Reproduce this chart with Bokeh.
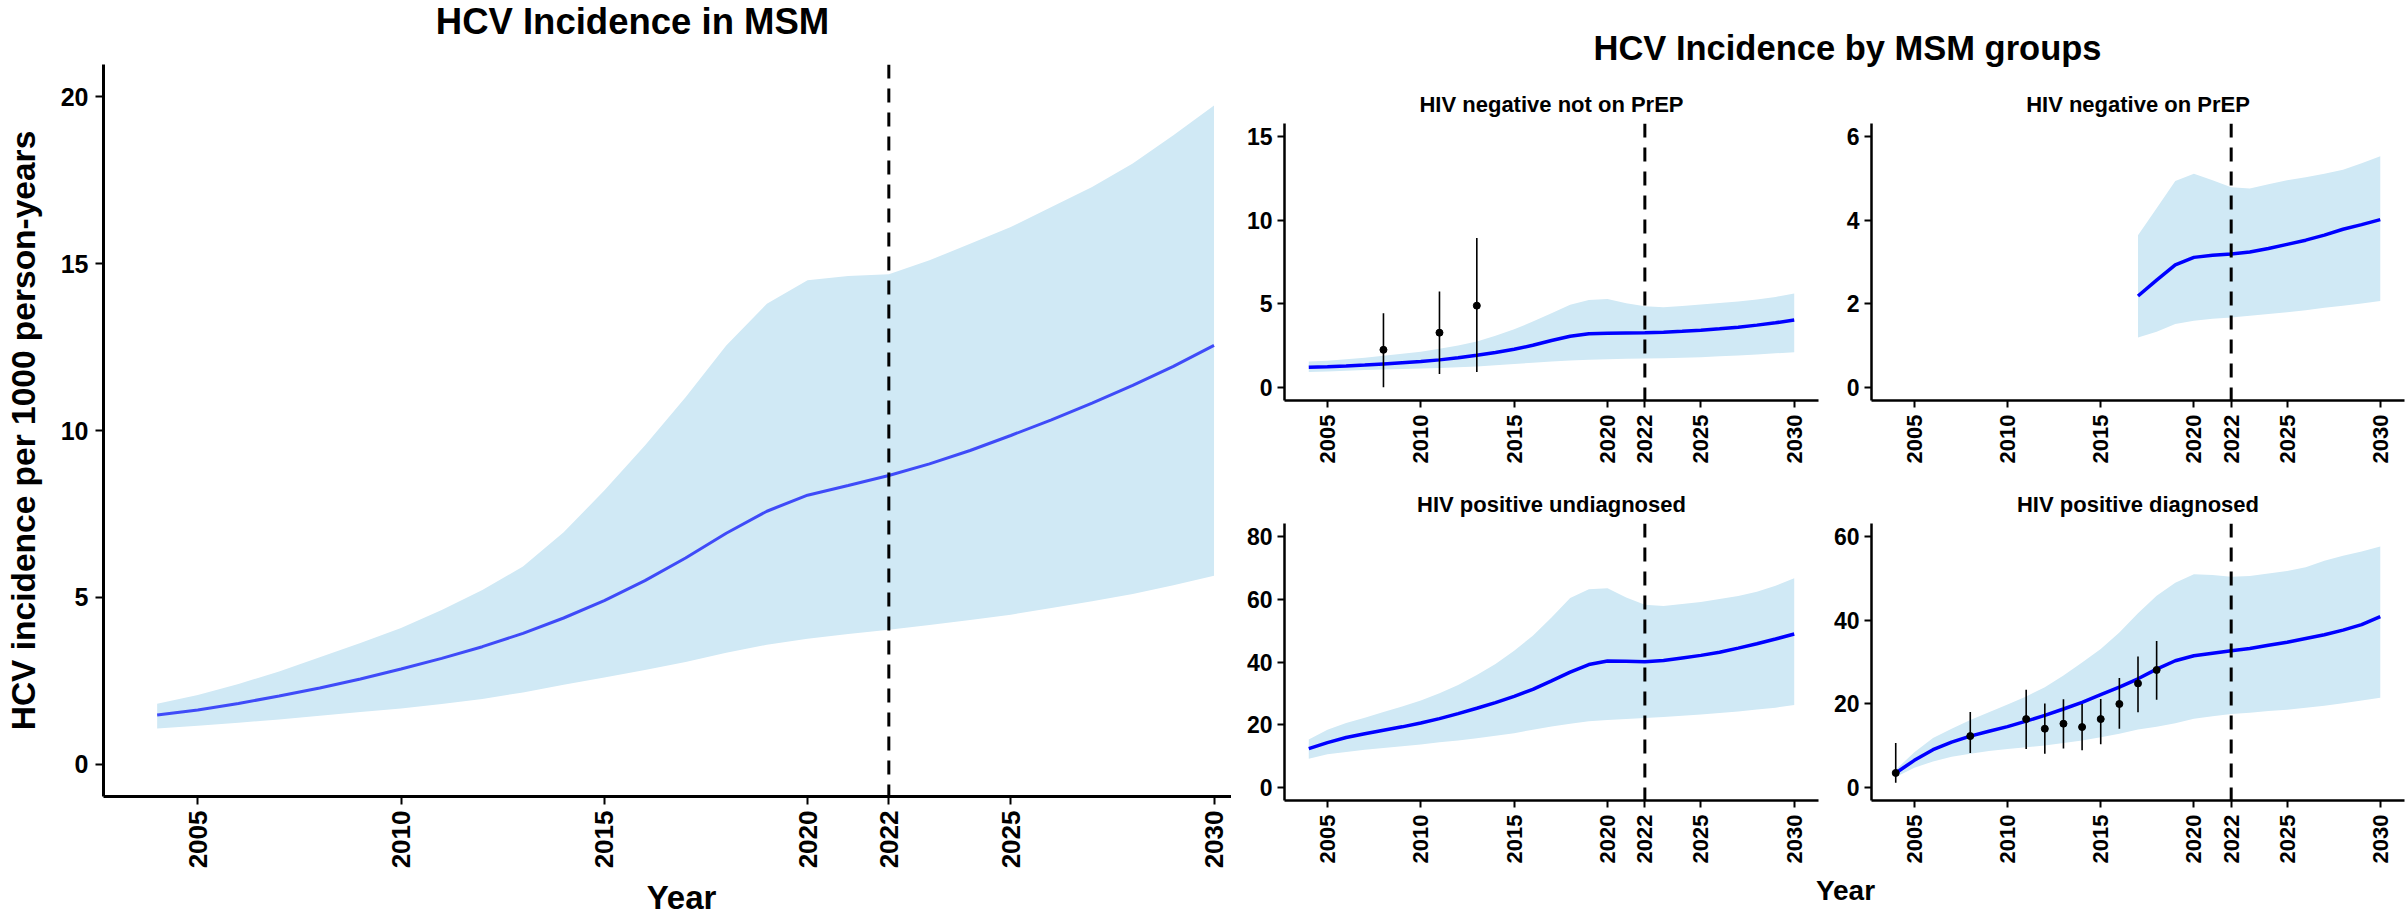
import math
from bokeh.plotting import figure
from bokeh.models import Range1d, FixedTicker, Span, Label
from bokeh.layouts import row, column
from bokeh.embed import file_html
from bokeh.resources import INLINE

FONT = "Liberation Sans"

# ---------------- data ----------------
years = list(range(2004, 2031))
x_ticks = [2005, 2010, 2015, 2020, 2022, 2025, 2030]
cutoff_year = 2022

# Overall MSM
msm_median = [1.47, 1.62, 1.82, 2.04, 2.28, 2.55, 2.85, 3.17, 3.52, 3.92, 4.38, 4.90, 5.50, 6.18,
              6.92, 7.58, 8.06, 8.35, 8.65, 9.00, 9.40, 9.85, 10.32, 10.82, 11.35, 11.92, 12.55]
msm_upper = [1.81, 2.07, 2.40, 2.78, 3.20, 3.63, 4.08, 4.62, 5.22, 5.92, 6.95, 8.20, 9.55, 11.0,
             12.55, 13.8, 14.5, 14.63, 14.68, 15.1, 15.6, 16.1, 16.7, 17.3, 18.0, 18.85, 19.74]
msm_lower = [1.07, 1.15, 1.24, 1.34, 1.45, 1.56, 1.67, 1.80, 1.95, 2.15, 2.38, 2.60, 2.82, 3.06,
             3.34, 3.58, 3.76, 3.90, 4.03, 4.17, 4.32, 4.48, 4.68, 4.88, 5.10, 5.36, 5.65]

# HIV negative not on PrEP
neg_median = [1.23, 1.26, 1.30, 1.36, 1.43, 1.50, 1.57, 1.67, 1.79, 1.94, 2.11, 2.30, 2.54, 2.82,
              3.08, 3.22, 3.26, 3.27, 3.28, 3.32, 3.37, 3.43, 3.52, 3.62, 3.74, 3.88, 4.04]
neg_upper = [1.57, 1.62, 1.70, 1.80, 1.91, 2.03, 2.16, 2.33, 2.53, 2.76, 3.10, 3.49, 3.95, 4.44,
             4.95, 5.24, 5.30, 5.05, 4.86, 4.80, 4.88, 4.97, 5.06, 5.15, 5.26, 5.42, 5.62]
neg_lower = [0.95, 0.98, 1.02, 1.06, 1.10, 1.13, 1.15, 1.19, 1.23, 1.27, 1.35, 1.43, 1.50, 1.57,
             1.63, 1.68, 1.71, 1.73, 1.75, 1.77, 1.80, 1.83, 1.88, 1.93, 1.99, 2.06, 2.13]
neg_obs_year = [2008, 2011, 2013]
neg_obs = [2.27, 3.29, 4.90]
neg_obs_lo = [0.04, 0.83, 0.95]
neg_obs_hi = [4.44, 5.75, 8.93]

# HIV negative on PrEP
prep_years = list(range(2017, 2031))
prep_median = [2.19, 2.57, 2.93, 3.11, 3.16, 3.19, 3.24, 3.32, 3.42, 3.52, 3.64, 3.78, 3.89, 4.01]
prep_upper = [3.64, 4.28, 4.93, 5.10, 4.95, 4.78, 4.75, 4.85, 4.95, 5.02, 5.10, 5.20, 5.35, 5.52]
prep_lower = [1.20, 1.34, 1.52, 1.60, 1.65, 1.68, 1.72, 1.76, 1.80, 1.85, 1.91, 1.96, 2.01, 2.07]

# HIV positive undiagnosed
und_median = [12.5, 14.4, 16.0, 17.2, 18.3, 19.4, 20.6, 22.0, 23.6, 25.3, 27.1, 29.1, 31.3, 34.0,
              36.8, 39.2, 40.3, 40.2, 40.1, 40.5, 41.3, 42.1, 43.1, 44.4, 45.8, 47.3, 48.9]
und_upper = [15.4, 18.5, 20.6, 22.3, 24.1, 25.9, 27.8, 30.1, 32.7, 35.9, 39.4, 43.6, 48.3, 54.1,
             60.3, 63.1, 63.4, 60.5, 58.2, 57.8, 58.4, 59.1, 60.0, 61.0, 62.3, 64.2, 66.6]
und_lower = [9.3, 10.7, 11.4, 12.1, 12.7, 13.2, 13.8, 14.5, 15.1, 15.8, 16.6, 17.4, 18.5, 19.5,
             20.4, 21.2, 21.6, 21.9, 22.2, 22.5, 22.9, 23.3, 23.8, 24.3, 24.9, 25.5, 26.3]

# HIV positive diagnosed
dia_median = [3.56, 6.57, 9.1, 10.9, 12.35, 13.5, 14.6, 15.9, 17.3, 18.8, 20.4, 22.2, 24.0, 26.0,
              28.3, 30.3, 31.5, 32.1, 32.7, 33.2, 34.0, 34.7, 35.6, 36.5, 37.6, 38.9, 40.8]
dia_upper = [4.35, 8.5, 11.9, 14.1, 16.2, 18.0, 19.9, 21.8, 24.0, 26.8, 29.9, 33.1, 37.0, 41.6,
             45.8, 48.9, 50.9, 50.7, 50.3, 50.5, 51.1, 51.7, 52.6, 54.1, 55.3, 56.3, 57.5]
dia_lower = [2.6, 4.8, 6.3, 7.4, 8.15, 8.8, 9.3, 9.7, 10.1, 10.7, 11.3, 12.1, 12.9, 13.9,
             14.6, 15.4, 16.5, 17.1, 17.6, 17.9, 18.3, 18.6, 19.1, 19.6, 20.2, 20.8, 21.5]
dia_obs_year = [2004, 2008, 2011, 2012, 2013, 2014, 2015, 2016, 2017, 2018]
dia_obs = [3.56, 12.35, 16.4, 14.1, 15.3, 14.5, 16.4, 20.0, 24.9, 28.1]
dia_obs_lo = [1.2, 8.3, 9.3, 8.15, 9.4, 9.0, 10.4, 14.1, 18.0, 21.0]
dia_obs_hi = [10.7, 18.1, 23.4, 20.1, 21.1, 20.0, 21.2, 26.2, 31.3, 35.0]

BAND = "#D0E9F5"

# left panel geometry (pixels)
L_W, L_BL = 1231, 103
L_XR = (2002.68, 2030.43)


def style(p, xsize, ysize, axis_w, tick_len):
    p.xgrid.visible = False
    p.ygrid.visible = False
    p.outline_line_color = None
    p.background_fill_color = "white"
    p.xaxis.ticker = FixedTicker(ticks=x_ticks)
    p.xaxis.major_label_orientation = math.pi / 2
    for ax in (p.xaxis, p.yaxis):
        ax.minor_tick_line_color = None
        ax.major_tick_in = 0
        ax.major_tick_out = tick_len
        ax.major_tick_line_width = 2
        ax.major_tick_line_color = "black"
        ax.axis_line_width = axis_w
        ax.axis_line_color = "black"
        ax.major_label_text_font = FONT
        ax.major_label_text_font_style = "bold"
        ax.major_label_text_color = "black"
        ax.major_label_standoff = 7
        ax.axis_label_text_font = FONT
        ax.axis_label_text_font_style = "bold"
        ax.axis_label_text_color = "black"
    p.xaxis.major_label_text_font_size = xsize
    p.yaxis.major_label_text_font_size = ysize


def strip(w, h, txt, x, y, size, xr=None, bl=0, br=0, baseline="middle"):
    if xr is None:
        xr = (0, w)
    f = figure(width=w, height=h, x_range=Range1d(*xr), y_range=Range1d(0, h),
               output_backend="svg", toolbar_location=None, min_border=0,
               min_border_left=bl, min_border_right=br, min_border_top=0, min_border_bottom=0,
               x_axis_location=None, y_axis_location=None)
    f.outline_line_color = None
    f.grid.visible = False
    f.add_layout(Label(x=x, y=y, text=txt, text_align="center",
                       text_baseline=baseline, text_font=FONT, text_font_size=size,
                       text_font_style="bold", text_color="black"))
    return f


def px_to_year(px):
    return L_XR[0] + (px - L_BL) * (L_XR[1] - L_XR[0]) / (L_W - L_BL)


# ---------------- left panel ----------------
left = figure(width=L_W, height=825, x_range=Range1d(*L_XR),
              y_range=Range1d(-0.97, 20.97), output_backend="svg", toolbar_location=None,
              min_border_left=L_BL, min_border_right=0, min_border_top=18, min_border_bottom=72)
style(left, "26px", "25px", 3, 8)
left.xaxis.major_label_standoff = 6
left.yaxis.ticker = FixedTicker(ticks=[0, 5, 10, 15, 20])
left.yaxis.axis_label = "HCV incidence per 1000 person-years"
left.yaxis.axis_label_text_font_size = "33.5px"
left.yaxis.axis_label_standoff = 16
left.varea(x=years, y1=msm_lower, y2=msm_upper, fill_color=BAND)
left.line(x=years, y=msm_median, line_color="#3F4BF8", line_width=3)
left.add_layout(Span(location=cutoff_year, dimension="height", line_color="black",
                     line_width=3, line_dash="14 10"))

left_header = strip(L_W, 46, "HCV Incidence in MSM", px_to_year(632), 25, "36.5px",
                    xr=L_XR, bl=L_BL, br=0)
left_footer = strip(L_W, 48, "Year", px_to_year(681), 22, "33px",
                    xr=L_XR, bl=L_BL, br=0, baseline="alphabetic")


def sub(title, w, bl, br, h, bt, bb, yr, yticks, xs, med, lo, hi, obs=None):
    p = figure(width=w, height=h, x_range=Range1d(2002.7, 2031.3), y_range=Range1d(*yr),
               output_backend="svg", toolbar_location=None,
               min_border_left=bl, min_border_right=br, min_border_top=bt, min_border_bottom=bb)
    style(p, "22px", "23px", 2.5, 7)
    p.yaxis.ticker = FixedTicker(ticks=yticks)
    p.yaxis.major_label_standoff = 5
    p.title.text = title
    p.title.text_font = FONT
    p.title.text_font_size = "22px"
    p.title.text_font_style = "bold"
    p.title.text_color = "black"
    p.title.align = "center"
    p.title.standoff = 14
    p.varea(x=xs, y1=lo, y2=hi, fill_color=BAND)
    p.line(x=xs, y=med, line_color="#0000FF", line_width=3.5)
    p.add_layout(Span(location=cutoff_year, dimension="height", line_color="black",
                      line_width=3, line_dash="14 10"))
    if obs is not None:
        oy, ov, olo, ohi = obs
        p.segment(x0=oy, y0=olo, x1=oy, y1=ohi, line_color="black", line_width=1.6)
        p.scatter(x=oy, y=ov, size=7, fill_color="black", line_color="black")
    return p


tl = sub("HIV negative not on PrEP", 595, 53, 8, 400, 45, 78, (-0.75, 15.75), [0, 5, 10, 15],
         years, neg_median, neg_lower, neg_upper, (neg_obs_year, neg_obs, neg_obs_lo, neg_obs_hi))
tr = sub("HIV negative on PrEP", 581, 45, 3, 400, 45, 78, (-0.3, 6.3), [0, 2, 4, 6],
         prep_years, prep_median, prep_lower, prep_upper)
bl = sub("HIV positive undiagnosed", 595, 53, 8, 390, 45, 68, (-4, 84), [0, 20, 40, 60, 80],
         years, und_median, und_lower, und_upper)
br = sub("HIV positive diagnosed", 581, 45, 3, 390, 45, 68, (-3, 63), [0, 20, 40, 60],
         years, dia_median, dia_lower, dia_upper, (dia_obs_year, dia_obs, dia_obs_lo, dia_obs_hi))

header = strip(1176, 78, "HCV Incidence by MSM groups", 616, 78 - 47, "34.5px")
footer = strip(1176, 51, "Year", 614, 51 - 22, "28px")

left_col = column(left_header, left, left_footer)
right_col = column(header, row(tl, tr), row(bl, br), footer)
root = row(left_col, right_col)

open("out.html", "w").write(file_html(root, INLINE))
